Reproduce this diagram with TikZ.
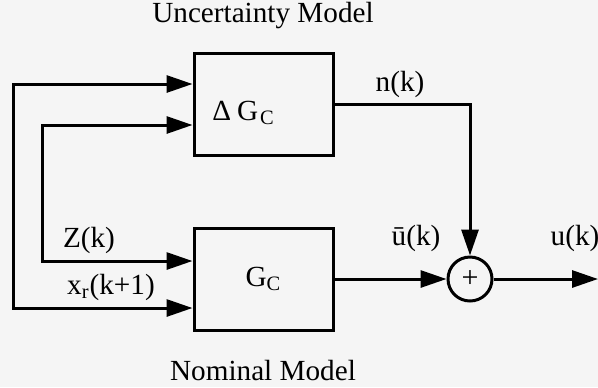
\documentclass[tikz,border=0pt]{standalone}
\usepackage{fontspec}
\setmainfont{Liberation Serif}
\usetikzlibrary{arrows.meta,positioning}

\begin{document}
\begin{tikzpicture}[x=0.5pt, y=-0.5pt, every node/.style={font=\fontsize{14.6}{17}\selectfont},
	block/.style={draw, rectangle, line width=1.5pt, minimum width=69.5pt, minimum height=51pt, inner sep=0pt},
	sig/.style={-{Triangle[length=13pt,width=8.5pt]}, line width=1.5pt}]
				\fill[black!4] (0,0) rectangle (598,387);
				\useasboundingbox (0,0) rectangle (598,387);
				\node[block] (dgc) at (263.5,104) {\raisebox{-8pt}[0pt][0pt]{Δ\hspace{3pt}G\textsubscript{\hspace{1pt}C}}\hspace{20pt}\null};
				\node[block] (gc) at (263.5,279) {G\textsubscript{C}};
				\node[draw, circle, line width=1.5pt, minimum size=22pt, inner sep=0pt, font=\fontsize{15}{17}\selectfont] (sum) at (470,279) {+};
				\node (unc) at (263,16) {Uncertainty Model};
				\node (nom) at (263,370) {Nominal Model};
				\coordinate (zin) at (42,193);
				\coordinate (xin) at (13,196);
				\coordinate (uout) at (598,279);
				\draw[sig] (zin) |- ([yshift=-10.5pt]dgc.west);
				\draw[sig] (zin) |- ([yshift=9pt]gc.west);
				\draw[sig] (xin) |- ([yshift=10pt]dgc.west);
				\draw[sig] (xin) |- ([yshift=-14.5pt]gc.west);
				\draw[sig] (dgc.east) -| (sum.north);
				\draw[sig] (gc.east) -- (sum.west);
				\draw[sig] (sum.east) -- (uout);
				\node (zk) at (89,240) {Z(k)};
				\node (xrk) at (111,287) {x\textsubscript{r}(k+1)};
				\node (nk) at (400,84) {n(k)};
				\node (ubar) at (416,238) {ū(k)};
				\node (uk) at (575,238) {u(k)};
			\end{tikzpicture}
\end{document}
